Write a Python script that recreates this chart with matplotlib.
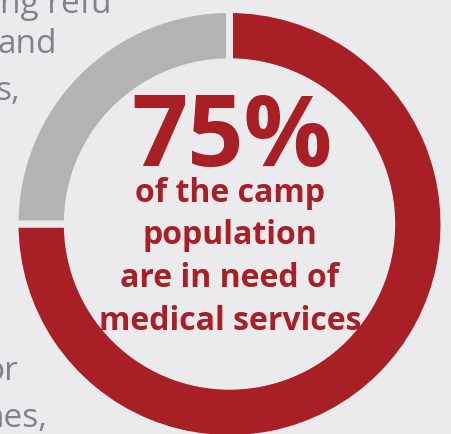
import matplotlib
matplotlib.use("Agg")
import matplotlib.pyplot as plt

# donut share and its headline
shares = [75, 25]
share_labels = ["in need", "other"]
headline = f"{shares[0]}%"
caption_lines = ["of the camp", "population", "are in need of", "medical services"]

# fragments of the surrounding paragraph that peek out at the left edge
side_text = ["ng refu", "and", "s,", "or", "nes,"]
side_right = [112, 57, 20, 18, 47]
side_base = [13, 53, 100, 380, 427]

BG = "#ebebee"
RED = "#a81f25"
GREY = "#b3b3b3"
TXT = "#808285"

W, H = 451, 434
plt.rcParams["font.family"] = ["Open Sans", "DejaVu Sans"]

fig = plt.figure(figsize=(W / 100, H / 100), dpi=100, facecolor=BG)
ax = fig.add_axes([0, 0, 1, 1])
ax.set_facecolor(BG)

for s, xr, yb in zip(side_text, side_right, side_base):
    ax.text(xr, H - yb, s, ha="right", va="baseline", fontsize=24,
            color=TXT, zorder=1)

# ring: edge lines in the background colour open the small gaps
gap = 7
cx, cy = 229.5, H - 224
r_out, ring_w = 211, 46
ax.pie(shares, colors=[RED, GREY], startangle=90, counterclock=False,
       center=(cx, cy), radius=r_out + gap / 2, frame=True,
       wedgeprops=dict(width=ring_w + gap, edgecolor=BG,
                       linewidth=gap * 72 / 100, zorder=2))
# cover the paragraph inside the ring
ax.add_patch(plt.Circle((cx, cy), r_out - ring_w, color=BG, zorder=2.5))
ax.set_xlim(0, W)
ax.set_ylim(0, H)
ax.set_aspect("equal")
ax.axis("off")

ax.text(232, H - 166, headline, ha="center", va="baseline", fontsize=71,
        fontweight="bold", color=RED, zorder=3)
for line, yb in zip(caption_lines, [202, 244, 287, 330]):
    ax.text(230, H - yb, line, ha="center", va="baseline", fontsize=23,
            fontweight="bold", color=RED, zorder=3)

fig.savefig("out.png", dpi=100, facecolor=BG)
